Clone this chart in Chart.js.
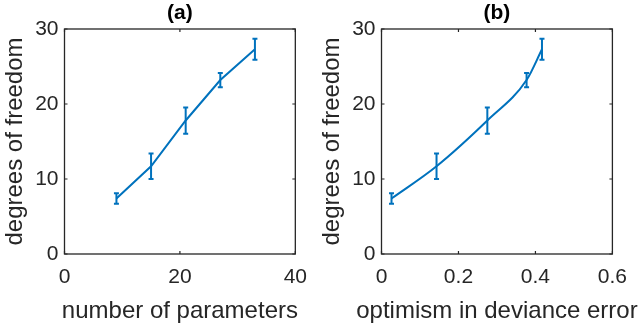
<!DOCTYPE html>
<html>
<head>
<meta charset="utf-8">
<script src="https://cdn.jsdelivr.net/npm/chart.js@4/dist/chart.umd.min.js"></script>
<style>
  html, body { margin: 0; padding: 0; background: #fff; }
  .wrap { display: flex; width: 640px; height: 323px; }
  .painel { position: relative; width: 320px; height: 323px; }
</style>
</head>
<body>
<div class="wrap">
  <div class="painel"><canvas id="graficoA"></canvas></div>
  <div class="painel"><canvas id="graficoB"></canvas></div>
</div>
<script>
// dados
const numParametros = [9, 15, 21, 27, 33];
const otimismo = [0.026, 0.143, 0.275, 0.377, 0.417];
const grausLiberdade = [7.4, 11.7, 17.8, 23.2, 27.3];
const erroGraus = [0.7, 1.7, 1.75, 0.95, 1.4];

const ticksA = [0, 20, 40];
const ticksB = [0, 0.2, 0.4, 0.6];
const ticksY = [0, 10, 20, 30];

const AZUL = '#0072BD';
const EIXO = '#262626';
const FONTE = '"Liberation Sans", Arial, Helvetica, sans-serif';

// caixa estilo MATLAB, ticks para dentro, títulos e barras de erro
const pluginMatlab = {
    id: 'matlab',
    afterDatasetsDraw(chart, args, opts) {
        const ctx = chart.ctx;
        const a = chart.chartArea;
        const sx = chart.scales.x, sy = chart.scales.y;

        // barras de erro
        const meta = chart.getDatasetMeta(0);
        ctx.save();
        ctx.strokeStyle = AZUL;
        ctx.lineWidth = 2;
        meta.data.forEach((pt, i) => {
            const v = grausLiberdade[i];
            const yTop = sy.getPixelForValue(v + erroGraus[i]);
            const yBot = sy.getPixelForValue(v - erroGraus[i]);
            ctx.beginPath();
            ctx.moveTo(pt.x, yTop); ctx.lineTo(pt.x, yBot);
            ctx.moveTo(pt.x - 2.5, yTop); ctx.lineTo(pt.x + 2.5, yTop);
            ctx.moveTo(pt.x - 2.5, yBot); ctx.lineTo(pt.x + 2.5, yBot);
            ctx.stroke();
        });
        ctx.restore();

        // caixa
        ctx.save();
        ctx.strokeStyle = EIXO;
        ctx.lineWidth = 1.3;
        ctx.strokeRect(a.left, a.top, a.right - a.left, a.bottom - a.top);
        ctx.lineWidth = 1.2;
        ctx.beginPath();
        sx.ticks.forEach(t => {
            const x = sx.getPixelForValue(t.value);
            ctx.moveTo(x, a.bottom); ctx.lineTo(x, a.bottom - 3);
            ctx.moveTo(x, a.top); ctx.lineTo(x, a.top + 3);
        });
        sy.ticks.forEach(t => {
            const y = sy.getPixelForValue(t.value);
            ctx.moveTo(a.left, y); ctx.lineTo(a.left + 3, y);
            ctx.moveTo(a.right, y); ctx.lineTo(a.right - 3, y);
        });
        ctx.stroke();

        // título (a)/(b)
        ctx.fillStyle = '#000';
        ctx.font = 'bold 21px ' + FONTE;
        ctx.textAlign = 'center';
        ctx.textBaseline = 'middle';
        ctx.fillText(opts.titulo, (a.left + a.right) / 2, 13);

        // rótulo do eixo x (sem compressão, pode passar da borda)
        ctx.fillStyle = EIXO;
        ctx.font = '24px ' + FONTE;
        ctx.fillText(opts.rotuloX, (a.left + a.right) / 2, 311);
        ctx.restore();
    }
};

function criarPainel(id, xs, ticksX, rotuloX, opcoes) {
    const ctx = document.getElementById(id).getContext('2d');
    return new Chart(ctx, {
        type: 'line',
        data: {
            datasets: [{
                data: xs.map((x, i) => ({ x: x, y: grausLiberdade[i] })),
                borderColor: AZUL,
                borderWidth: 2,
                pointRadius: 0,
                tension: opcoes.curva ? 0.4 : 0,
                cubicInterpolationMode: opcoes.curva ? 'monotone' : 'default',
                fill: false
            }]
        },
        options: {
            responsive: false,
            animation: false,
            layout: { padding: { top: 29, right: opcoes.direita, left: 0, bottom: 0 } },
            plugins: {
                legend: { display: false },
                tooltip: { enabled: false },
                matlab: { titulo: opcoes.titulo, rotuloX: rotuloX }
            },
            scales: {
                x: {
                    type: 'linear',
                    min: ticksX[0],
                    max: ticksX[ticksX.length - 1],
                    afterBuildTicks: s => { s.ticks = ticksX.map(v => ({ value: v })); },
                    afterFit: s => { s.height = 69; },
                    grid: { display: false, drawTicks: false },
                    border: { display: false },
                    ticks: {
                        color: EIXO,
                        padding: 13,
                        font: { family: FONTE, size: 21, lineHeight: 1 },
                        maxRotation: 0
                    }
                },
                y: {
                    type: 'linear',
                    min: 0,
                    max: 30,
                    afterBuildTicks: s => { s.ticks = ticksY.map(v => ({ value: v })); },
                    afterFit: s => { s.width = opcoes.esquerda; },
                    grid: { display: false, drawTicks: false },
                    border: { display: false },
                    ticks: {
                        color: EIXO,
                        padding: 6,
                        font: { family: FONTE, size: 21, lineHeight: 1 }
                    },
                    title: {
                        display: true,
                        text: 'degrees of freedom',
                        color: EIXO,
                        font: { family: FONTE, size: 24, lineHeight: 1 },
                        padding: { top: opcoes.tituloY, bottom: 0 }
                    }
                }
            }
        },
        plugins: [pluginMatlab]
    });
}

['graficoA', 'graficoB'].forEach(id => {
    document.getElementById(id).width = 320;
    document.getElementById(id).height = 323;
});

criarPainel('graficoA', numParametros, ticksA, 'number of parameters',
    { titulo: '(a)', esquerda: 64.5, direita: 23.3, tituloY: 3, curva: false });
criarPainel('graficoB', otimismo, ticksB, 'optimism in deviance error',
    { titulo: '(b)', esquerda: 61.5, direita: 26, tituloY: 0, curva: true });
</script>
</body>
</html>
